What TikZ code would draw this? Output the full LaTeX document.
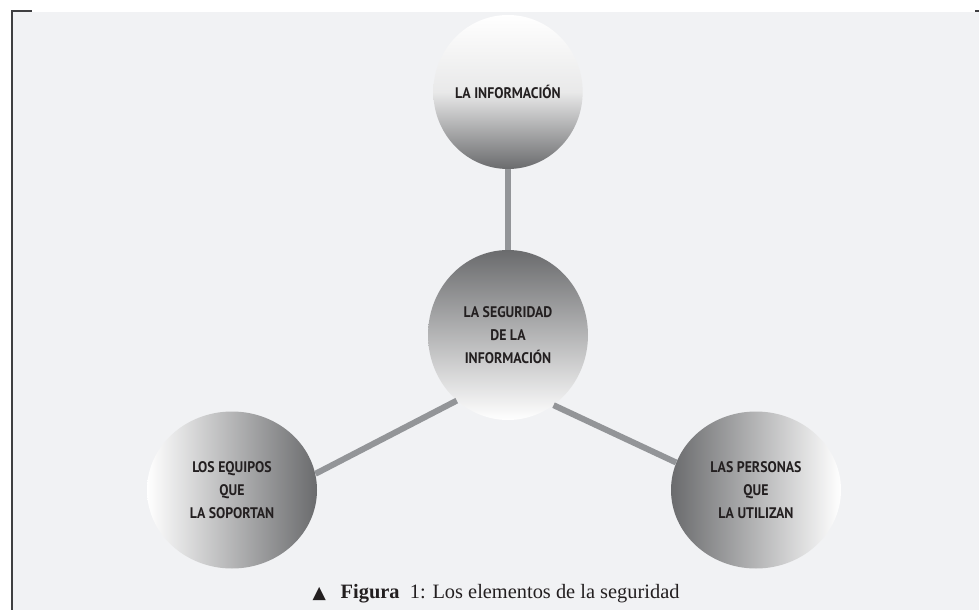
\documentclass[tikz,border=0pt]{standalone}
\usepackage{fontspec}
\newfontfamily\rotulo[FakeStretch=0.9]{PT Sans}
\newfontfamily\simbolo{DejaVu Sans}
\newfontfamily\pietexto{Liberation Serif}
\usetikzlibrary{shapes.geometric}
\usetikzlibrary{positioning}
\definecolor{fondo}{HTML}{F1F2F4}
\definecolor{grisenlace}{HTML}{939598}
\definecolor{marco}{HTML}{3F3F41}
\definecolor{sombra}{HTML}{6A6B6D}
\definecolor{tinta}{HTML}{231F20}

\begin{document}
\begin{tikzpicture}[x=0.75pt,y=-0.75pt,
  bola/.style={ellipse,inner sep=0pt,align=center,text=tinta,
    font=\rotulo\bfseries\fontsize{11.5}{17}\selectfont},
  union/.style={grisenlace,line width=4.5pt}]
\useasboundingbox (0,0) rectangle (979,610);
% fondo y marco
\fill[fondo](13,12) rectangle (979,610);
\draw[marco,line width=1.5pt](12,610)--(12,11)--(32,11);
\draw[marco,line width=1.5pt](975,11)--(979,11);

% las cuatro bolas
\node[bola,minimum width=106.5pt,minimum height=115.5pt,
  top color=white,bottom color=sombra,middle color=white!85!sombra]
  (info) at (508,92) {LA INFORMACIÓN};
\node[bola,minimum width=120pt,minimum height=127.5pt,
  top color=sombra,bottom color=white]
  (seg) at (508,335) {LA SEGURIDAD\\DE LA\\INFORMACIÓN};
\node[bola,minimum width=127.5pt,minimum height=117.75pt,
  left color=white,right color=sombra]
  (equipos) at (232,490) {LOS EQUIPOS\\QUE\\LA SOPORTAN};
\node[bola,minimum width=127.5pt,minimum height=117.75pt,
  left color=sombra,right color=white]
  (personas) at (756,490) {LAS PERSONAS\\QUE\\LA UTILIZAN};

% uniones
\draw[union](info.south)--(seg.north);
\draw[union](seg.232)--(equipos.11);
\draw[union](seg.303)--(personas.161);

% pie de figura
\node[anchor=base west,text=tinta,font=\pietexto\fontsize{15.3}{17}\selectfont]
  (pie) at (308,598) {{\simbolo\fontsize{13}{15}\selectfont ▲}\hspace{11pt}\textbf{Figura}\ \ 1: Los elementos de la seguridad};
\end{tikzpicture}
\end{document}
